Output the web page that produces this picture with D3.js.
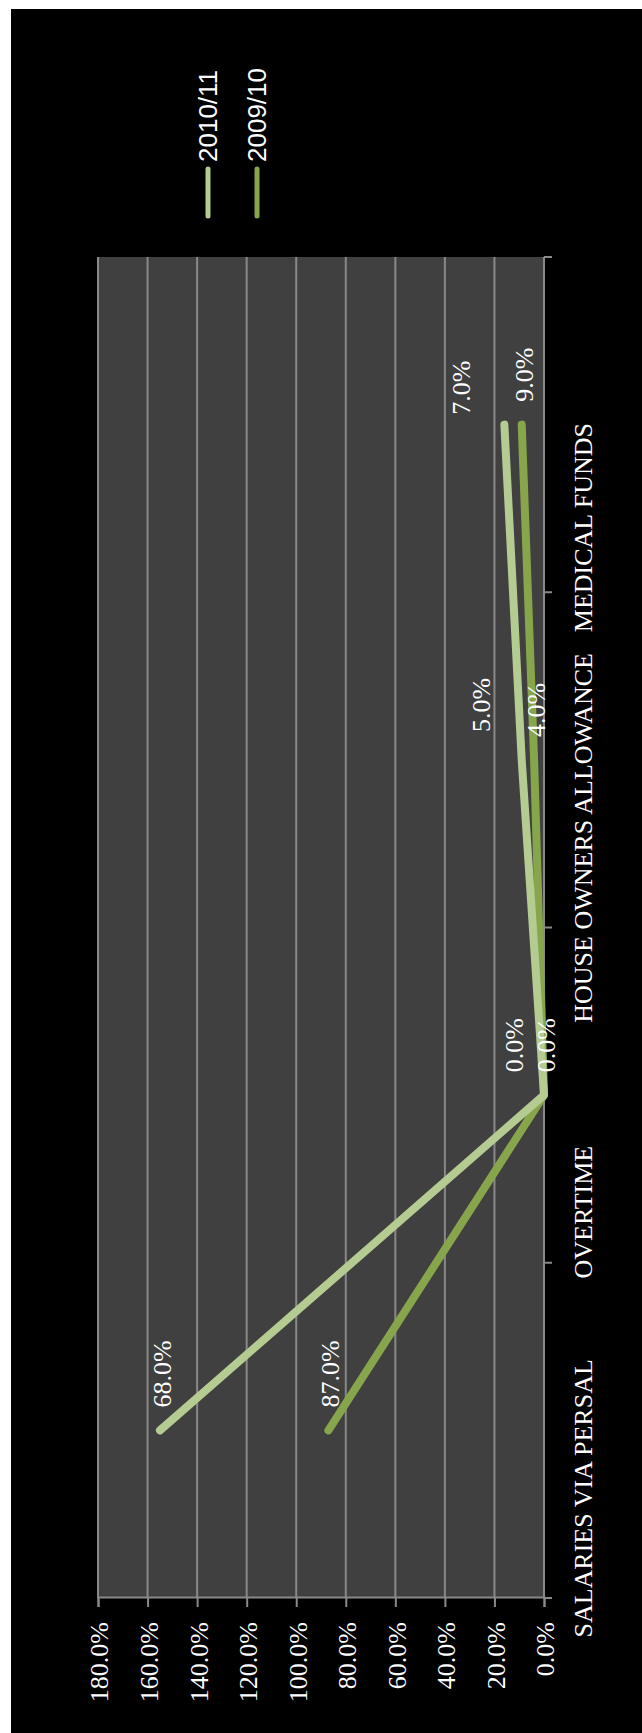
<!DOCTYPE html>
<html>
<head>
<meta charset="utf-8">
<script src="https://cdn.jsdelivr.net/npm/d3@7"></script>
<style>
  html, body { margin: 0; padding: 0; background: #ffffff; }
  svg { display: block; }
</style>
</head>
<body>
<svg id="chart" width="642" height="1733"></svg>
<script>
// ---- data ----
const categories = ["SALARIES VIA PERSAL", "OVERTIME", "HOUSE OWNERS ALLOWANCE", "MEDICAL FUNDS"];
const seriesNames = ["2009/10", "2010/11"];
const values0910 = [0.87, 0.00, 0.04, 0.09];
const values1011 = [0.68, 0.00, 0.05, 0.07];
const tickValues = [0, 0.2, 0.4, 0.6, 0.8, 1.0, 1.2, 1.4, 1.6, 1.8];

// ---- layout / style ----
const colors = {"2009/10": "#87a64b", "2010/11": "#b4cc92"};
const serif = "'Liberation Serif', 'Times New Roman', serif";
const sans = "'Liberation Sans', Arial, sans-serif";
const gridColor = "#898989";
// per-label nudges (unrotated dx, dy) for the 2010/11 labels
const labelNudge1011 = [[0, 0], [0, -32], [5, -43], [-13, -45]];
// category label shifts (unrotated dx) as placed in the original
const catLabelShift = [-68, -117, -78, -103];

const svg = d3.select("#chart");
svg.append("rect").attr("x", 11).attr("y", 9).attr("width", 642 - 11).attr("height", 1733 - 9).attr("fill", "#000");

// unrotated chart dimensions
const W = 1341, H = 446;
const g = svg.append("g").attr("transform", "translate(98,1598) rotate(-90)");

const x = d3.scaleBand().domain(categories).range([0, W]);
const y = d3.scaleLinear().domain([0, 1.8]).range([H, 0]);

// plot background
g.append("rect").attr("x", 0).attr("y", 0).attr("width", W).attr("height", H).attr("fill", "#404040");

// gridlines
g.append("g").selectAll("line").data(tickValues).join("line")
  .attr("x1", 0).attr("x2", W)
  .attr("y1", d => y(d)).attr("y2", d => y(d))
  .attr("stroke", gridColor).attr("stroke-width", 2);

// value axis (left in unrotated frame)
const yAxis = g.append("g")
  .call(d3.axisLeft(y).tickValues(tickValues).tickFormat(d3.format(".1%")).tickSize(9).tickPadding(15));
yAxis.select(".domain").attr("stroke", gridColor).attr("stroke-width", 2);
yAxis.selectAll(".tick line").attr("stroke", gridColor).attr("stroke-width", 2);
yAxis.selectAll(".tick text").attr("fill", "#fff").attr("font-family", serif).attr("font-size", 26).attr("dy", "0.38em");

// category axis (bottom in unrotated frame)
const catAxis = g.append("g").attr("transform", `translate(0,${H})`);
catAxis.append("line").attr("x1", 0).attr("x2", W).attr("y1", 0).attr("y2", 0)
  .attr("stroke", gridColor).attr("stroke-width", 2);
const boundaries = categories.map(c => x(c)).concat([x.range()[1]]);
catAxis.selectAll("line.tk").data(boundaries).join("line").attr("class", "tk")
  .attr("x1", d => d).attr("x2", d => d).attr("y1", 0).attr("y2", 8)
  .attr("stroke", gridColor).attr("stroke-width", 2);
catAxis.selectAll("text").data(categories).join("text")
  .attr("x", (d, i) => x(d) + x.bandwidth() / 2 + catLabelShift[i]).attr("y", 48)
  .attr("text-anchor", "middle").attr("fill", "#fff")
  .attr("font-family", serif).attr("font-size", 26)
  .text(d => d);

// stacked line series
const rows = categories.map((c, i) => ({cat: c, "2009/10": values0910[i], "2010/11": values1011[i]}));
const stacked = d3.stack().keys(seriesNames)(rows);

const line = d3.line()
  .x(d => x(d.data.cat) + x.bandwidth() / 2)
  .y(d => y(d[1]));

g.append("g").selectAll("path").data(stacked).join("path")
  .attr("d", d => line(d))
  .attr("fill", "none")
  .attr("stroke", d => colors[d.key])
  .attr("stroke-width", 8)
  .attr("stroke-linecap", "round")
  .attr("stroke-linejoin", "round");

// data labels
const fmt = d3.format(".1%");
stacked.forEach(s => {
  g.append("g").selectAll("text").data(s).join("text")
    .attr("x", (d, i) => x(d.data.cat) + x.bandwidth() / 2 + 23 + (s.key === "2010/11" ? labelNudge1011[i][0] : 0))
    .attr("y", (d, i) => y(d[1]) + (s.key === "2010/11" ? labelNudge1011[i][1] : 0))
    .attr("dy", "0.42em")
    .attr("fill", "#fff")
    .attr("font-family", serif).attr("font-size", 26)
    .text(d => fmt(d.data[s.key]));
});

// legend (right of plot in unrotated frame)
const legendOrder = ["2010/11", "2009/10"];
const legend = g.append("g").selectAll("g").data(legendOrder).join("g")
  .attr("transform", (d, i) => `translate(1382,${110 + i * 49})`);
legend.append("line").attr("x1", 0).attr("x2", 47).attr("y1", 0).attr("y2", 0)
  .attr("stroke", d => colors[d]).attr("stroke-width", 5).attr("stroke-linecap", "round");
legend.append("text").attr("x", 54).attr("y", 0).attr("dy", "0.36em")
  .attr("fill", "#fff").attr("font-family", sans).attr("font-size", 26)
  .text(d => d);
</script>
</body>
</html>
